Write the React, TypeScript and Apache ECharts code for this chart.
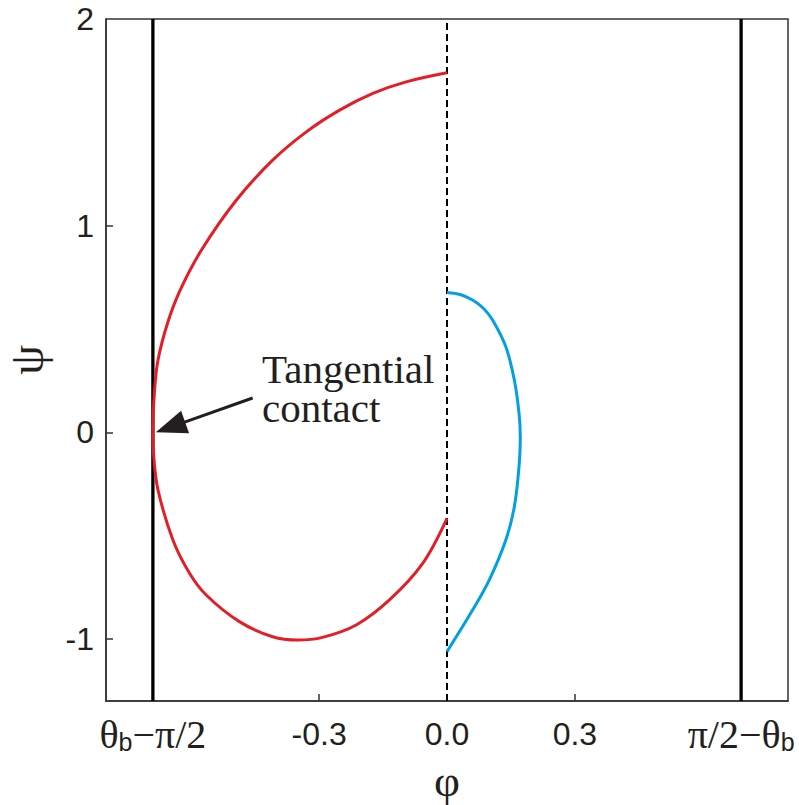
import React, { useEffect, useRef } from 'react';
import * as echarts from 'echarts';

// ---- data ----
const xMin = -0.8;
const xMax = 0.8;
const yMin = -1.3;
const yMax = 2;
const boundaryPhi = 0.69; // pi/2 - theta_b

const xTickValues = [-0.69, -0.3, 0, 0.3, 0.69];
const xTickLabels = ['{s|θ}{sub|b}{s|−π/2}', '{n|-0.3}', '{n|0.0}', '{n|0.3}', '{s|π/2−θ}{sub|b}'];
const xMinorTicks = [-0.3, 0, 0.3];
const yTickValues = [-1, 0, 1, 2];
const yTickLabels = ['-1', '0', '1', '2'];

const redPhi = [0, -0.096, -0.174, -0.252, -0.33, -0.409, -0.494, -0.576, -0.626, -0.6555, -0.678, -0.686, -0.69, -0.688, -0.678, -0.643, -0.604, -0.565, -0.487, -0.409, -0.35, -0.292, -0.213, -0.135, -0.057, 0];
const redPsi = [1.74, 1.696, 1.64, 1.559, 1.454, 1.317, 1.124, 0.882, 0.688, 0.529, 0.35, 0.205, 0, -0.118, -0.279, -0.521, -0.682, -0.787, -0.916, -0.989, -1.005, -0.992, -0.932, -0.811, -0.634, -0.416];

const bluePhi = [0, 0.031, 0.06, 0.0865, 0.107, 0.138, 0.158, 0.169, 0.172, 0.169, 0.158, 0.138, 0.099, 0.06, 0];
const bluePsi = [0.677, 0.667, 0.64, 0.598, 0.543, 0.414, 0.253, 0.092, -0.021, -0.166, -0.36, -0.521, -0.715, -0.86, -1.061];

const annotationLines = ['Tangential', 'contact'];
const annotationAnchor = [-0.434, 0.21];
const arrowFrom = [-0.456, 0.166];
const arrowTo = [-0.683, 0];

const INK = '#231f20';
const RED = '#e41e26';
const BLUE = '#00a0e2';
const SERIF = '"Liberation Serif", "Times New Roman", serif';
const SANS = '"Liberation Sans", Arial, sans-serif';

const zip = (a: number[], b: number[]) => a.map((v, i) => [v, b[i]]);

export default function App() {
  const ref = useRef<HTMLDivElement>(null);
  useEffect(() => {
    if (!ref.current) return;
    const chart = echarts.init(ref.current, undefined, { renderer: 'svg' });
    const option: any = {
      animation: false,
      backgroundColor: '#ffffff',
      grid: {
        left: 106, right: 11, top: 19, bottom: 104,
        containLabel: false, outerBoundsMode: 'none',
        show: true, borderColor: '#333', borderWidth: 1.5, backgroundColor: 'transparent',
      },
      xAxis: {
        type: 'value',
        min: xMin,
        max: xMax,
        name: 'φ',
        nameLocation: 'middle',
        nameGap: 50,
        nameTextStyle: { fontFamily: SERIF, fontSize: 45, lineHeight: 40, color: INK },
        axisLine: { show: true, onZero: false, lineStyle: { color: '#333', width: 1.5 } },
        axisTick: { show: true, inside: true, length: 7, customValues: xMinorTicks, lineStyle: { color: '#333', width: 1.5 } },
        splitLine: { show: false },
        axisLabel: {
          customValues: xTickValues,
          margin: 13,
          color: INK,
          hideOverlap: false,
          formatter: (v: number) => {
            const i = xTickValues.findIndex((t) => Math.abs(t - v) < 1e-6);
            return i >= 0 ? xTickLabels[i] : '';
          },
          rich: {
            s: { fontFamily: SERIF, fontSize: 40, lineHeight: 40, color: INK },
            n: { fontFamily: SANS, fontSize: 32, lineHeight: 40, color: INK },
            sub: { fontFamily: SANS, fontSize: 25, lineHeight: 12, verticalAlign: 'bottom', color: INK },
          },
        },
      },
      yAxis: {
        type: 'value',
        min: yMin,
        max: yMax,
        name: 'ψ',
        nameLocation: 'middle',
        nameGap: 60,
        nameTextStyle: { fontFamily: SERIF, fontSize: 48, lineHeight: 40, color: INK },
        axisLine: { show: true, onZero: false, lineStyle: { color: '#333', width: 1.5 } },
        axisTick: { show: true, inside: true, length: 7, customValues: [-1, 0, 1], lineStyle: { color: '#333', width: 1.5 } },
        splitLine: { show: false },
        axisLabel: {
          customValues: yTickValues,
          margin: 12,
          color: INK,
          fontFamily: SANS,
          fontSize: 32,
          padding: [6, 0, 0, 0],
          formatter: (v: number) => {
            const i = yTickValues.findIndex((t) => Math.abs(t - v) < 1e-6);
            return i >= 0 ? yTickLabels[i] : '';
          },
        },
      },
      series: [
        {
          type: 'line', symbol: 'none', silent: true,
          data: [[-boundaryPhi, yMin], [-boundaryPhi, yMax]],
          lineStyle: { color: '#000', width: 3.3 },
        },
        {
          type: 'line', symbol: 'none', silent: true,
          data: [[boundaryPhi, yMin], [boundaryPhi, yMax]],
          lineStyle: { color: '#000', width: 3.3 },
        },
        {
          type: 'line', symbol: 'none', silent: true,
          data: [[0, yMin], [0, yMax]],
          lineStyle: { color: '#000', width: 2, type: [7, 4] },
        },
        {
          type: 'line', symbol: 'none', smooth: 0.35,
          data: zip(redPhi, redPsi),
          lineStyle: { color: RED, width: 3 },
        },
        {
          type: 'line', symbol: 'none', smooth: 0.35,
          data: zip(bluePhi, bluePsi),
          lineStyle: { color: BLUE, width: 3 },
        },
      ],
    };
    chart.setOption(option);

    const p = chart.convertToPixel({ gridIndex: 0 }, annotationAnchor) as number[];
    const s = chart.convertToPixel({ gridIndex: 0 }, arrowFrom) as number[];
    const t = chart.convertToPixel({ gridIndex: 0 }, arrowTo) as number[];
    const dx = t[0] - s[0];
    const dy = t[1] - s[1];
    const len = Math.sqrt(dx * dx + dy * dy);
    const ux = dx / len;
    const uy = dy / len;
    const headLen = 31;
    const headHalf = 12;
    const bx = t[0] - headLen * ux;
    const by = t[1] - headLen * uy;
    const nx = -uy;
    const ny = ux;
    const lineGap = 39;
    chart.setOption({
      graphic: [
        ...annotationLines.map((txt, i) => ({
          type: 'text', x: p[0], y: p[1] + (i - (annotationLines.length - 1) / 2) * lineGap, silent: true,
          style: { text: txt, fontFamily: SERIF, fontSize: 41, fill: INK, align: 'left', verticalAlign: 'middle' },
        })),
        {
          type: 'line', silent: true,
          shape: { x1: s[0], y1: s[1], x2: bx + ux * 2, y2: by + uy * 2 },
          style: { stroke: INK, lineWidth: 3 },
        },
        {
          type: 'polygon', silent: true,
          shape: { points: [[t[0], t[1]], [bx + headHalf * nx, by + headHalf * ny], [bx - headHalf * nx, by - headHalf * ny]] },
          style: { fill: INK },
        },
      ],
    });

    return () => chart.dispose();
  }, []);
  return <div ref={ref} style={{ position: 'fixed', left: 0, top: 0, width: 799, height: 805, background: '#fff' }} />;
}
